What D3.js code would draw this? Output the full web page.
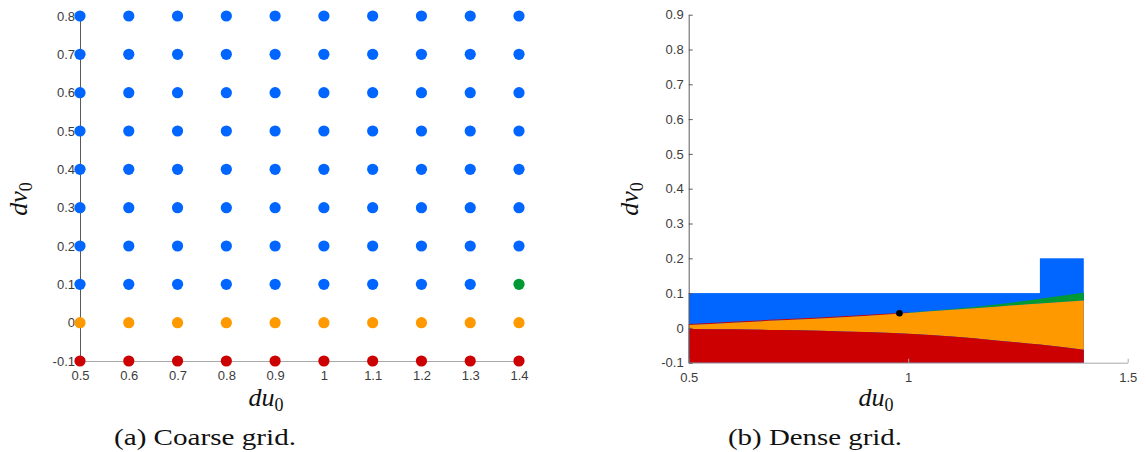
<!DOCTYPE html>
<html>
<head>
<meta charset="utf-8">
<script src="https://cdn.jsdelivr.net/npm/d3@7"></script>
<style>
  body { margin: 0; background: #fff; }
  svg { display: block; }
</style>
</head>
<body>
<svg id="chart" width="1146" height="452"></svg>
<script>
// (a) coarse grid
const duCoarse = [0.5, 0.6, 0.7, 0.8, 0.9, 1.0, 1.1, 1.2, 1.3, 1.4];
const dvCoarse = [-0.1, 0, 0.1, 0.2, 0.3, 0.4, 0.5, 0.6, 0.7, 0.8];
// class per (dv row, du column): R red, O orange, G green, B blue
const coarseClass = [
  ['R','R','R','R','R','R','R','R','R','R'],
  ['O','O','O','O','O','O','O','O','O','O'],
  ['B','B','B','B','B','B','B','B','B','G'],
  ['B','B','B','B','B','B','B','B','B','B'],
  ['B','B','B','B','B','B','B','B','B','B'],
  ['B','B','B','B','B','B','B','B','B','B'],
  ['B','B','B','B','B','B','B','B','B','B'],
  ['B','B','B','B','B','B','B','B','B','B'],
  ['B','B','B','B','B','B','B','B','B','B'],
  ['B','B','B','B','B','B','B','B','B','B']
];
const coarseXTicks = [0.5, 0.6, 0.7, 0.8, 0.9, 1, 1.1, 1.2, 1.3, 1.4];
const coarseYTicks = [-0.1, 0, 0.1, 0.2, 0.3, 0.4, 0.5, 0.6, 0.7, 0.8];

// (b) dense grid, region boundaries
const duDense = [0.5, 0.6, 0.7, 0.8, 0.9, 1.0, 1.1, 1.2, 1.3, 1.4];
const blueBottom = [0.011, 0.018, 0.024, 0.030, 0.037, 0.044, 0.054, 0.067, 0.084, 0.101];
const orangeTop = [0.008, 0.015, 0.021, 0.027, 0.034, 0.043, 0.052, 0.061, 0.070, 0.079];
const redTop = [-0.003, -0.004, -0.006, -0.008, -0.012, -0.017, -0.025, -0.036, -0.048, -0.063];
const blueBlocks = [
  { du0: 0.5, du1: 1.4, top: 0.1 },
  { du0: 1.3, du1: 1.4, top: 0.2 }
];
const marker = { du: 0.98, dv: 0.042 };
const denseXTicks = [0.5, 1, 1.5];
const denseYTicks = [-0.1, 0, 0.1, 0.2, 0.3, 0.4, 0.5, 0.6, 0.7, 0.8, 0.9];

const colors = { R: '#cc0000', O: '#ff9900', G: '#009933', B: '#0066ff' };
const SANS = '"Liberation Sans", Arial, Helvetica, sans-serif';
const SERIF = '"Liberation Serif", "Times New Roman", Times, serif';

const svg = d3.select('#chart');
const fmt = d => String(d);

function axes(g, x, y, xTicks, yTicks, inward) {
  const ax = g.append('g')
    .attr('transform', `translate(0,${y.range()[0]})`)
    .call(d3.axisBottom(x).tickValues(xTicks).tickFormat(fmt)
      .tickSizeInner(inward ? -4 : 0).tickSizeOuter(0).tickPadding(10));
  ax.select('.domain').attr('stroke', '#a8a8a8');
  ax.selectAll('.tick line').attr('stroke', '#a8a8a8');

  const ay = g.append('g')
    .attr('transform', `translate(${x.range()[0]},0)`)
    .call(d3.axisLeft(y).tickValues(yTicks).tickFormat(fmt)
      .tickSizeInner(inward ? -4 : 0).tickSizeOuter(0).tickPadding(5));
  ay.select('.domain').attr('stroke', '#5a5a5a');
  ay.selectAll('.tick line').attr('stroke', '#5a5a5a');

  [ax, ay].forEach(a => a.attr('font-family', SANS).attr('font-size', 13)
    .selectAll('text').attr('fill', '#3c3c3c'));
}

function mathLabel(g, x, y, base, sub, rotate) {
  const t = g.append('text')
    .attr('font-family', SERIF).attr('font-style', 'italic').attr('font-size', 26).attr('fill', '#111')
    .attr('text-anchor', 'middle')
    .attr('transform', `translate(${x},${y})` + (rotate ? ' rotate(-90)' : ''));
  t.append('tspan').text(base);
  t.append('tspan').attr('font-style', 'normal').attr('font-size', 18).attr('dy', 5).text(sub);
}

function caption(g, x, w, text) {
  g.append('text')
    .attr('font-family', SERIF).attr('font-size', 24).attr('fill', '#111')
    .attr('x', x).attr('y', 445)
    .attr('text-anchor', 'middle').attr('textLength', w).attr('lengthAdjust', 'spacingAndGlyphs')
    .text(text);
}

// ---- left: coarse grid ----
{
  const x = d3.scaleLinear().domain([0.5, 1.4]).range([80, 519]);
  const y = d3.scaleLinear().domain([-0.1, 0.8]).range([361, 16]);
  const g = svg.append('g');
  axes(g, x, y, coarseXTicks, coarseYTicks, false);

  const pts = [];
  dvCoarse.forEach((dv, i) => duCoarse.forEach((du, j) => pts.push({ du, dv, c: coarseClass[i][j] })));
  g.selectAll('circle.pt').data(pts).join('circle')
    .attr('class', 'pt')
    .attr('cx', d => x(d.du)).attr('cy', d => y(d.dv))
    .attr('r', 5.6)
    .attr('fill', d => colors[d.c]);

  mathLabel(g, 266, 406, 'du', '0', false);
  mathLabel(g, 27, 199, 'dv', '0', true);
  caption(g, 205, 182, '(a) Coarse grid.');
}

// ---- right: dense grid ----
{
  const x = d3.scaleLinear().domain([0.5, 1.5]).range([688.7, 1127.7]);
  const y = d3.scaleLinear().domain([-0.1, 0.9]).range([362.7, 14.7]);
  const g = svg.append('g');

  g.selectAll('rect.blue').data(blueBlocks).join('rect')
    .attr('class', 'blue')
    .attr('x', d => x(d.du0)).attr('width', d => x(d.du1) - x(d.du0))
    .attr('y', d => y(d.top)).attr('height', d => y(-0.1) - y(d.top))
    .attr('fill', colors.B);

  const rows = duDense.map((du, i) => ({ du, blue: blueBottom[i], orange: orangeTop[i], red: redTop[i] }));
  const area = (lo, hi) => d3.area().curve(d3.curveMonotoneX)
    .x(d => x(d.du)).y0(d => y(lo(d))).y1(d => y(hi(d)));

  // gap between blue and orange: red sliver on the left, green wedge on the right
  g.append('path').datum(rows.filter(d => d.du <= 1.0))
    .attr('fill', colors.R).attr('d', area(d => d.orange, d => d.blue));
  g.append('path').datum(rows.filter(d => d.du >= 1.0))
    .attr('fill', colors.G).attr('d', area(d => d.orange, d => d.blue));
  g.append('path').datum(rows)
    .attr('fill', colors.O).attr('d', area(d => d.red, d => d.orange));
  g.append('path').datum(rows)
    .attr('fill', colors.R).attr('d', area(d => -0.1, d => d.red));

  axes(g, x, y, denseXTicks, denseYTicks, true);

  g.append('circle')
    .attr('cx', x(marker.du)).attr('cy', y(marker.dv))
    .attr('r', 3.3).attr('fill', '#000');

  mathLabel(g, 876, 406, 'du', '0', false);
  mathLabel(g, 638, 199, 'dv', '0', true);
  caption(g, 815, 174, '(b) Dense grid.');
}
</script>
</body>
</html>
